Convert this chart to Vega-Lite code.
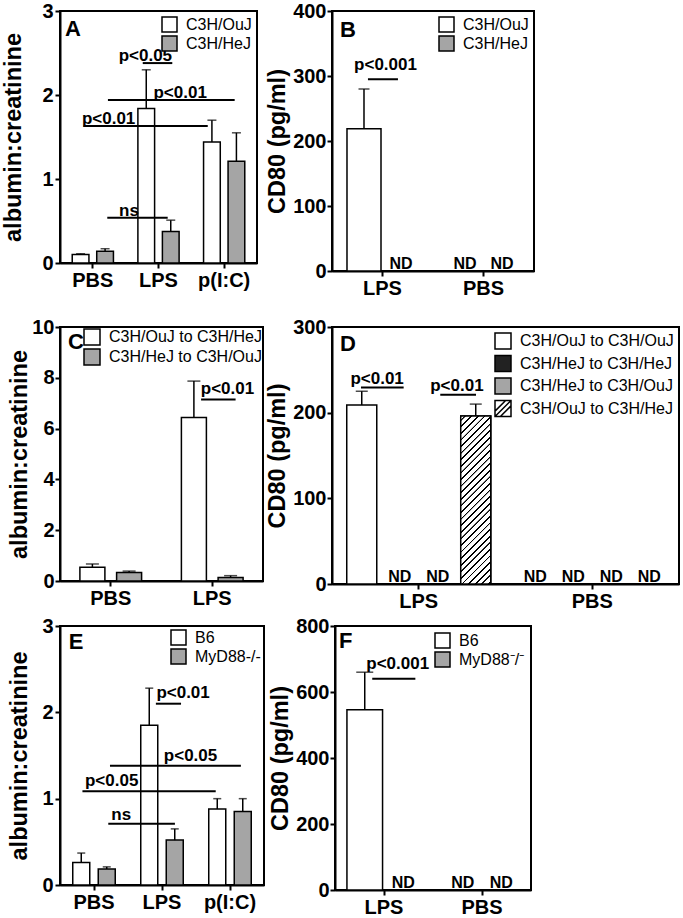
{
"$schema":"https://vega.github.io/schema/vega-lite/v6.json",
"background":"white",
"padding":{"left":0,"top":0,"right":0,"bottom":0},
"datasets":{
"a":[{"group":"PBS","series":"C3H/OuJ","value":0.1,"upper":0.11},{"group":"PBS","series":"C3H/HeJ","value":0.14,"upper":0.17},{"group":"LPS","series":"C3H/OuJ","value":1.84,"upper":2.3},{"group":"LPS","series":"C3H/HeJ","value":0.375,"upper":0.51},{"group":"p(I:C)","series":"C3H/OuJ","value":1.44,"upper":1.7},{"group":"p(I:C)","series":"C3H/HeJ","value":1.21,"upper":1.55}],
"a_sig":[{"label":"p<0.05","x1":1.26,"x2":1.71,"y":2.38,"xt":1.3,"yt":2.41},{"label":"p<0.01","x1":0.73,"x2":2.66,"y":1.94,"xt":1.83,"yt":1.96},{"label":"p<0.01","x1":0.36,"x2":2.25,"y":1.63,"xt":0.74,"yt":1.66},{"label":"ns","x1":0.72,"x2":1.64,"y":0.54,"xt":1.05,"yt":0.56}],
"b":[{"group":"LPS","series":"C3H/OuJ","value":219,"upper":280,"nd":null},{"group":"LPS","series":"C3H/HeJ","value":null,"upper":null,"nd":"ND"},{"group":"PBS","series":"C3H/OuJ","value":null,"upper":null,"nd":"ND"},{"group":"PBS","series":"C3H/HeJ","value":null,"upper":null,"nd":"ND"}],
"b_sig":[{"label":"p<0.001","x1":0.356,"x2":0.653,"y":295,"xt":0.53,"yt":309}],
"c":[{"group":"PBS","series":"C3H/OuJ to C3H/HeJ","value":0.54,"upper":0.67},{"group":"PBS","series":"C3H/HeJ to C3H/OuJ","value":0.33,"upper":0.39},{"group":"LPS","series":"C3H/OuJ to C3H/HeJ","value":6.44,"upper":7.87},{"group":"LPS","series":"C3H/HeJ to C3H/OuJ","value":0.14,"upper":0.21}],
"c_sig":[{"label":"p<0.01","x1":1.39,"x2":1.73,"y":7.15,"xt":1.65,"yt":7.35}],
"d":[{"group":"LPS","series":"C3H/OuJ to C3H/OuJ","value":209,"upper":225,"nd":null},{"group":"LPS","series":"C3H/HeJ to C3H/HeJ","value":null,"upper":null,"nd":"ND"},{"group":"LPS","series":"C3H/HeJ to C3H/OuJ","value":null,"upper":null,"nd":"ND"},{"group":"LPS","series":"C3H/OuJ to C3H/HeJ","value":196,"upper":210,"nd":null},{"group":"PBS","series":"C3H/OuJ to C3H/OuJ","value":null,"upper":null,"nd":"ND"},{"group":"PBS","series":"C3H/HeJ to C3H/HeJ","value":null,"upper":null,"nd":"ND"},{"group":"PBS","series":"C3H/HeJ to C3H/OuJ","value":null,"upper":null,"nd":"ND"},{"group":"PBS","series":"C3H/OuJ to C3H/HeJ","value":null,"upper":null,"nd":"ND"}],
"d_sig":[{"label":"p<0.01","x1":0.167,"x2":0.413,"y":229.5,"xt":0.26,"yt":233},{"label":"p<0.01","x1":0.624,"x2":0.83,"y":221,"xt":0.72,"yt":225}],
"e":[{"group":"PBS","series":"B6","value":0.26,"upper":0.37},{"group":"PBS","series":"MyD88-/-","value":0.185,"upper":0.21},{"group":"LPS","series":"B6","value":1.85,"upper":2.28},{"group":"LPS","series":"MyD88-/-","value":0.52,"upper":0.65},{"group":"p(I:C)","series":"B6","value":0.88,"upper":1.0},{"group":"p(I:C)","series":"MyD88-/-","value":0.85,"upper":1.0}],
"e_sig":[{"label":"p<0.01","x1":1.41,"x2":1.78,"y":2.1,"xt":1.81,"yt":2.17},{"label":"p<0.05","x1":0.735,"x2":2.66,"y":1.38,"xt":1.92,"yt":1.44},{"label":"p<0.05","x1":0.33,"x2":2.29,"y":1.085,"xt":0.76,"yt":1.15},{"label":"ns","x1":0.71,"x2":1.69,"y":0.71,"xt":0.9,"yt":0.75}],
"f":[{"group":"LPS","series":"B6","value":546,"upper":660,"nd":null},{"group":"LPS","series":"MyD88⁻/⁻","value":null,"upper":null,"nd":"ND"},{"group":"PBS","series":"B6","value":null,"upper":null,"nd":"ND"},{"group":"PBS","series":"MyD88⁻/⁻","value":null,"upper":null,"nd":"ND"}],
"f_sig":[{"label":"p<0.001","x1":0.38,"x2":0.82,"y":640,"xt":0.64,"yt":671}]
},
"spacing":17,
"resolve":{"scale":{"fill":"independent","xOffset":"independent"},"legend":{"fill":"independent"}},
"vconcat":[
{"spacing":6,
 "resolve":{"scale":{"fill":"independent","xOffset":"independent"},"legend":{"fill":"independent"}},
 "hconcat":[
 {"width":197,"height":252,
  "layer":[
   {"data":{"name":"a"},
    "layer":[
     {"mark":{"type":"bar","stroke":"black","strokeWidth":1.5},
      "encoding":{
       "x":{"field":"group","type":"nominal","sort":null,"scale":{"domain":["PBS","LPS","p(I:C)"],"paddingInner":0,"paddingOuter":0},"axis":{"title":null}},
       "xOffset":{"field":"series","type":"nominal","scale":{"domain":["C3H/OuJ","C3H/HeJ"],"paddingInner":0.318,"paddingOuter":0.499}},
       "y":{"field":"value","type":"quantitative","scale":{"domain":[0,3],"nice":false},"axis":{"title":"albumin:creatinine","values":[0,1,2,3],"format":"d","titlePadding":16,"labelPadding":2}},
       "fill":{"field":"series","type":"nominal","scale":{"domain":["C3H/OuJ","C3H/HeJ"],"range":["#ffffff","#a5a5a5"]},"legend":{"title":null,"orient":"top-right","rowPadding":-4,"offset":5,"labelFontSize":16,"symbolSize":225,"symbolType":"square","symbolStrokeColor":"black","symbolStrokeWidth":1.5,"labelOffset":8,"padding":0,"labelLimit":400}}}},
     {"mark":{"type":"rule","color":"black","strokeWidth":1.5},
      "encoding":{"x":{"field":"group","type":"nominal","sort":null},"xOffset":{"field":"series","type":"nominal"},"y":{"field":"value","type":"quantitative","scale":{"domain":[0,3],"nice":false}},"y2":{"field":"upper"}}},
     {"mark":{"type":"tick","color":"black","thickness":1.5,"size":9},
      "encoding":{"x":{"field":"group","type":"nominal","sort":null},"xOffset":{"field":"series","type":"nominal"},"y":{"field":"upper","type":"quantitative","scale":{"domain":[0,3],"nice":false}}}}
    ]},
   {"data":{"name":"a_sig"},
    "layer":[
     {"mark":{"type":"rule","color":"black","strokeWidth":2},
      "encoding":{"x":{"field":"x1","type":"quantitative","scale":{"domain":[0,3],"nice":false,"zero":false},"axis":null},"x2":{"field":"x2"},"y":{"field":"y","type":"quantitative","scale":{"domain":[0,3],"nice":false}}}},
     {"mark":{"type":"text","fontSize":17,"fontWeight":"bold","align":"center","baseline":"alphabetic"},
      "encoding":{"x":{"field":"xt","type":"quantitative","scale":{"domain":[0,3],"nice":false,"zero":false},"axis":null},"y":{"field":"yt","type":"quantitative","scale":{"domain":[0,3],"nice":false}},"text":{"field":"label"}}}
    ]},
   {"data":{"values":[{"letter":"A","x":0.076,"y":2.7}]},
    "mark":{"type":"text","fontSize":22,"fontWeight":"bold","align":"left","baseline":"alphabetic"},
    "encoding":{"x":{"field":"x","type":"quantitative","scale":{"domain":[0,3],"nice":false,"zero":false},"axis":null},"y":{"field":"y","type":"quantitative","scale":{"domain":[0,3],"nice":false}},"text":{"field":"letter"}}}
  ],
  "resolve":{"scale":{"x":"independent"},"axis":{"x":"independent"}}},
 {"width":202,"height":260,
  "layer":[
   {"data":{"name":"b"},
    "layer":[
     {"mark":{"type":"bar","stroke":"black","strokeWidth":1.5},
      "encoding":{
       "x":{"field":"group","type":"nominal","sort":null,"scale":{"domain":["LPS","PBS"],"paddingInner":0,"paddingOuter":0},"axis":{"title":null}},
       "xOffset":{"field":"series","type":"nominal","scale":{"domain":["C3H/OuJ","C3H/HeJ"],"paddingInner":0.081,"paddingOuter":0.405}},
       "y":{"field":"value","type":"quantitative","scale":{"domain":[0,400],"nice":false},"axis":{"title":"CD80 (pg/ml)","values":[0,100,200,300,400],"format":"d","titlePadding":3,"labelPadding":1}},
       "fill":{"field":"series","type":"nominal","scale":{"domain":["C3H/OuJ","C3H/HeJ"],"range":["#ffffff","#a5a5a5"]},"legend":{"title":null,"orient":"top-right","rowPadding":-4,"offset":5,"labelFontSize":16,"symbolSize":225,"symbolType":"square","symbolStrokeColor":"black","symbolStrokeWidth":1.5,"labelOffset":8,"padding":0,"labelLimit":400}}}},
     {"mark":{"type":"rule","color":"black","strokeWidth":1.5},
      "encoding":{"x":{"field":"group","type":"nominal","sort":null},"xOffset":{"field":"series","type":"nominal"},"y":{"field":"value","type":"quantitative","scale":{"domain":[0,400],"nice":false}},"y2":{"field":"upper"}}},
     {"mark":{"type":"tick","color":"black","thickness":1.5,"size":11},
      "encoding":{"x":{"field":"group","type":"nominal","sort":null},"xOffset":{"field":"series","type":"nominal"},"y":{"field":"upper","type":"quantitative","scale":{"domain":[0,400],"nice":false}}}},
     {"transform":[{"filter":"datum.nd != null"}],
      "mark":{"type":"text","fontSize":16,"fontWeight":"bold","align":"center","baseline":"alphabetic","dy":-2},
      "encoding":{"x":{"field":"group","type":"nominal","sort":null},"xOffset":{"field":"series","type":"nominal"},"y":{"datum":0,"type":"quantitative","scale":{"domain":[0,400],"nice":false}},"text":{"field":"nd"}}}
    ]},
   {"data":{"name":"b_sig"},
    "layer":[
     {"mark":{"type":"rule","color":"black","strokeWidth":2},
      "encoding":{"x":{"field":"x1","type":"quantitative","scale":{"domain":[0,2],"nice":false,"zero":false},"axis":null},"x2":{"field":"x2"},"y":{"field":"y","type":"quantitative","scale":{"domain":[0,400],"nice":false}}}},
     {"mark":{"type":"text","fontSize":17,"fontWeight":"bold","align":"center","baseline":"alphabetic"},
      "encoding":{"x":{"field":"xt","type":"quantitative","scale":{"domain":[0,2],"nice":false,"zero":false},"axis":null},"y":{"field":"yt","type":"quantitative","scale":{"domain":[0,400],"nice":false}},"text":{"field":"label"}}}
    ]},
   {"data":{"values":[{"letter":"B","x":0.08,"y":360}]},
    "mark":{"type":"text","fontSize":22,"fontWeight":"bold","align":"left","baseline":"alphabetic"},
    "encoding":{"x":{"field":"x","type":"quantitative","scale":{"domain":[0,2],"nice":false,"zero":false},"axis":null},"y":{"field":"y","type":"quantitative","scale":{"domain":[0,400],"nice":false}},"text":{"field":"letter"}}}
  ],
  "resolve":{"scale":{"x":"independent"},"axis":{"x":"independent"}}}
 ]},
{"spacing":3,
 "resolve":{"scale":{"fill":"independent","xOffset":"independent"},"legend":{"fill":"independent"}},
 "vconcat":[
 {"spacing":0,
  "resolve":{"scale":{"fill":"independent","xOffset":"independent"},"legend":{"fill":"independent"}},
  "hconcat":[
  {"width":203,"height":254,
   "layer":[
    {"data":{"name":"c"},
     "layer":[
      {"mark":{"type":"bar","stroke":"black","strokeWidth":1.5},
       "encoding":{
        "x":{"field":"group","type":"nominal","sort":null,"scale":{"domain":["PBS","LPS"],"paddingInner":0,"paddingOuter":0},"axis":{"title":null}},
        "xOffset":{"field":"series","type":"nominal","scale":{"domain":["C3H/OuJ to C3H/HeJ","C3H/HeJ to C3H/OuJ"],"paddingInner":0.319,"paddingOuter":0.542}},
        "y":{"field":"value","type":"quantitative","scale":{"domain":[0,10],"nice":false},"axis":{"title":"albumin:creatinine","values":[0,2,4,6,8,10],"format":"d","titlePadding":0,"labelPadding":1}},
        "fill":{"field":"series","type":"nominal","scale":{"domain":["C3H/OuJ to C3H/HeJ","C3H/HeJ to C3H/OuJ"],"range":["#ffffff","#a5a5a5"]},"legend":{"title":null,"orient":"top-right","rowPadding":-6,"offset":1,"labelFontSize":16,"symbolSize":256,"symbolType":"square","symbolStrokeColor":"black","symbolStrokeWidth":1.5,"labelOffset":8,"padding":0,"labelLimit":400}}}},
      {"mark":{"type":"rule","color":"black","strokeWidth":1.5},
       "encoding":{"x":{"field":"group","type":"nominal","sort":null},"xOffset":{"field":"series","type":"nominal"},"y":{"field":"value","type":"quantitative","scale":{"domain":[0,10],"nice":false}},"y2":{"field":"upper"}}},
      {"mark":{"type":"tick","color":"black","thickness":1.5,"size":13},
       "encoding":{"x":{"field":"group","type":"nominal","sort":null},"xOffset":{"field":"series","type":"nominal"},"y":{"field":"upper","type":"quantitative","scale":{"domain":[0,10],"nice":false}}}}
     ]},
    {"data":{"name":"c_sig"},
     "layer":[
      {"mark":{"type":"rule","color":"black","strokeWidth":2},
       "encoding":{"x":{"field":"x1","type":"quantitative","scale":{"domain":[0,2],"nice":false,"zero":false},"axis":null},"x2":{"field":"x2"},"y":{"field":"y","type":"quantitative","scale":{"domain":[0,10],"nice":false}}}},
      {"mark":{"type":"text","fontSize":17,"fontWeight":"bold","align":"center","baseline":"alphabetic"},
       "encoding":{"x":{"field":"xt","type":"quantitative","scale":{"domain":[0,2],"nice":false,"zero":false},"axis":null},"y":{"field":"yt","type":"quantitative","scale":{"domain":[0,10],"nice":false}},"text":{"field":"label"}}}
     ]},
    {"data":{"values":[{"letter":"C","x":0.08,"y":9.15}]},
     "mark":{"type":"text","fontSize":22,"fontWeight":"bold","align":"left","baseline":"alphabetic"},
     "encoding":{"x":{"field":"x","type":"quantitative","scale":{"domain":[0,2],"nice":false,"zero":false},"axis":null},"y":{"field":"y","type":"quantitative","scale":{"domain":[0,10],"nice":false}},"text":{"field":"letter"}}}
   ],
   "resolve":{"scale":{"x":"independent"},"axis":{"x":"independent"}}},
  {"width":347,"height":257,
   "layer":[
    {"data":{"name":"d"},
     "layer":[
      {"mark":{"type":"bar","stroke":"black","strokeWidth":1.5},
       "encoding":{
        "x":{"field":"group","type":"nominal","sort":null,"scale":{"domain":["LPS","PBS"],"paddingInner":0,"paddingOuter":0},"axis":{"title":null}},
        "xOffset":{"field":"series","type":"nominal","scale":{"domain":["C3H/OuJ to C3H/OuJ","C3H/HeJ to C3H/HeJ","C3H/HeJ to C3H/OuJ","C3H/OuJ to C3H/HeJ"],"paddingInner":0.21,"paddingOuter":0.388}},
        "y":{"field":"value","type":"quantitative","scale":{"domain":[0,300],"nice":false},"axis":{"title":"CD80 (pg/ml)","values":[0,100,200,300],"format":"d","titlePadding":3,"labelPadding":1}},
        "fill":{"field":"series","type":"nominal","scale":{"domain":["C3H/OuJ to C3H/OuJ","C3H/HeJ to C3H/HeJ","C3H/HeJ to C3H/OuJ","C3H/OuJ to C3H/HeJ"],"range":["#ffffff","#222222","#a5a5a5","#ffffff"]},"legend":{"title":null,"orient":"top-right","rowPadding":0.5,"offset":5,"labelFontSize":16,"symbolSize":256,"symbolType":"square","symbolStrokeColor":"black","symbolStrokeWidth":1.5,"labelOffset":8,"padding":0,"labelLimit":400,"encode":{"symbols":{"update":{"shape":{"signal":"datum.value === 'C3H/OuJ to C3H/HeJ' ? 'M-1,-1H1V1H-1Z M-1,0.33L0.33,-1 M-1,1L1,-1 M-0.33,1L1,-0.33' : 'square'"}}}}}}}},
      {"transform":[{"filter":"datum.series === 'C3H/OuJ to C3H/HeJ'"}],
       "mark":{"type":"bar","stroke":"black","strokeWidth":1.5,"fill":{"gradient":"linear","x1":0,"y1":0,"x2":0.204,"y2":1.142,"stops":[
{"offset":0,"color":"#ffffff"},
{"offset":0.0167,"color":"#ffffff"},{"offset":0.0177,"color":"#000000"},{"offset":0.0257,"color":"#000000"},{"offset":0.0267,"color":"#ffffff"},
{"offset":0.05,"color":"#ffffff"},{"offset":0.051,"color":"#000000"},{"offset":0.059,"color":"#000000"},{"offset":0.06,"color":"#ffffff"},
{"offset":0.0833,"color":"#ffffff"},{"offset":0.0843,"color":"#000000"},{"offset":0.0923,"color":"#000000"},{"offset":0.0933,"color":"#ffffff"},
{"offset":0.1167,"color":"#ffffff"},{"offset":0.1177,"color":"#000000"},{"offset":0.1257,"color":"#000000"},{"offset":0.1267,"color":"#ffffff"},
{"offset":0.15,"color":"#ffffff"},{"offset":0.151,"color":"#000000"},{"offset":0.159,"color":"#000000"},{"offset":0.16,"color":"#ffffff"},
{"offset":0.1833,"color":"#ffffff"},{"offset":0.1843,"color":"#000000"},{"offset":0.1923,"color":"#000000"},{"offset":0.1933,"color":"#ffffff"},
{"offset":0.2167,"color":"#ffffff"},{"offset":0.2177,"color":"#000000"},{"offset":0.2257,"color":"#000000"},{"offset":0.2267,"color":"#ffffff"},
{"offset":0.25,"color":"#ffffff"},{"offset":0.251,"color":"#000000"},{"offset":0.259,"color":"#000000"},{"offset":0.26,"color":"#ffffff"},
{"offset":0.2833,"color":"#ffffff"},{"offset":0.2843,"color":"#000000"},{"offset":0.2923,"color":"#000000"},{"offset":0.2933,"color":"#ffffff"},
{"offset":0.3167,"color":"#ffffff"},{"offset":0.3177,"color":"#000000"},{"offset":0.3257,"color":"#000000"},{"offset":0.3267,"color":"#ffffff"},
{"offset":0.35,"color":"#ffffff"},{"offset":0.351,"color":"#000000"},{"offset":0.359,"color":"#000000"},{"offset":0.36,"color":"#ffffff"},
{"offset":0.3833,"color":"#ffffff"},{"offset":0.3843,"color":"#000000"},{"offset":0.3923,"color":"#000000"},{"offset":0.3933,"color":"#ffffff"},
{"offset":0.4167,"color":"#ffffff"},{"offset":0.4177,"color":"#000000"},{"offset":0.4257,"color":"#000000"},{"offset":0.4267,"color":"#ffffff"},
{"offset":0.45,"color":"#ffffff"},{"offset":0.451,"color":"#000000"},{"offset":0.459,"color":"#000000"},{"offset":0.46,"color":"#ffffff"},
{"offset":0.4833,"color":"#ffffff"},{"offset":0.4843,"color":"#000000"},{"offset":0.4923,"color":"#000000"},{"offset":0.4933,"color":"#ffffff"},
{"offset":0.5167,"color":"#ffffff"},{"offset":0.5177,"color":"#000000"},{"offset":0.5257,"color":"#000000"},{"offset":0.5267,"color":"#ffffff"},
{"offset":0.55,"color":"#ffffff"},{"offset":0.551,"color":"#000000"},{"offset":0.559,"color":"#000000"},{"offset":0.56,"color":"#ffffff"},
{"offset":0.5833,"color":"#ffffff"},{"offset":0.5843,"color":"#000000"},{"offset":0.5923,"color":"#000000"},{"offset":0.5933,"color":"#ffffff"},
{"offset":0.6167,"color":"#ffffff"},{"offset":0.6177,"color":"#000000"},{"offset":0.6257,"color":"#000000"},{"offset":0.6267,"color":"#ffffff"},
{"offset":0.65,"color":"#ffffff"},{"offset":0.651,"color":"#000000"},{"offset":0.659,"color":"#000000"},{"offset":0.66,"color":"#ffffff"},
{"offset":0.6833,"color":"#ffffff"},{"offset":0.6843,"color":"#000000"},{"offset":0.6923,"color":"#000000"},{"offset":0.6933,"color":"#ffffff"},
{"offset":0.7167,"color":"#ffffff"},{"offset":0.7177,"color":"#000000"},{"offset":0.7257,"color":"#000000"},{"offset":0.7267,"color":"#ffffff"},
{"offset":0.75,"color":"#ffffff"},{"offset":0.751,"color":"#000000"},{"offset":0.759,"color":"#000000"},{"offset":0.76,"color":"#ffffff"},
{"offset":0.7833,"color":"#ffffff"},{"offset":0.7843,"color":"#000000"},{"offset":0.7923,"color":"#000000"},{"offset":0.7933,"color":"#ffffff"},
{"offset":0.8167,"color":"#ffffff"},{"offset":0.8177,"color":"#000000"},{"offset":0.8257,"color":"#000000"},{"offset":0.8267,"color":"#ffffff"},
{"offset":0.85,"color":"#ffffff"},{"offset":0.851,"color":"#000000"},{"offset":0.859,"color":"#000000"},{"offset":0.86,"color":"#ffffff"},
{"offset":0.8833,"color":"#ffffff"},{"offset":0.8843,"color":"#000000"},{"offset":0.8923,"color":"#000000"},{"offset":0.8933,"color":"#ffffff"},
{"offset":0.9167,"color":"#ffffff"},{"offset":0.9177,"color":"#000000"},{"offset":0.9257,"color":"#000000"},{"offset":0.9267,"color":"#ffffff"},
{"offset":0.95,"color":"#ffffff"},{"offset":0.951,"color":"#000000"},{"offset":0.959,"color":"#000000"},{"offset":0.96,"color":"#ffffff"},
{"offset":0.9833,"color":"#ffffff"},{"offset":0.9843,"color":"#000000"},{"offset":0.9923,"color":"#000000"},{"offset":0.9933,"color":"#ffffff"},
{"offset":1,"color":"#ffffff"}]}},
       "encoding":{"x":{"field":"group","type":"nominal","sort":null},"xOffset":{"field":"series","type":"nominal"},"y":{"field":"value","type":"quantitative","scale":{"domain":[0,300],"nice":false}}}},
      {"mark":{"type":"rule","color":"black","strokeWidth":1.5},
       "encoding":{"x":{"field":"group","type":"nominal","sort":null},"xOffset":{"field":"series","type":"nominal"},"y":{"field":"value","type":"quantitative","scale":{"domain":[0,300],"nice":false}},"y2":{"field":"upper"}}},
      {"mark":{"type":"tick","color":"black","thickness":1.5,"size":12},
       "encoding":{"x":{"field":"group","type":"nominal","sort":null},"xOffset":{"field":"series","type":"nominal"},"y":{"field":"upper","type":"quantitative","scale":{"domain":[0,300],"nice":false}}}},
      {"transform":[{"filter":"datum.nd != null"}],
       "mark":{"type":"text","fontSize":16,"fontWeight":"bold","align":"center","baseline":"alphabetic","dy":-2},
       "encoding":{"x":{"field":"group","type":"nominal","sort":null},"xOffset":{"field":"series","type":"nominal"},"y":{"datum":0,"type":"quantitative","scale":{"domain":[0,300],"nice":false}},"text":{"field":"nd"}}}
     ]},
    {"data":{"name":"d_sig"},
     "layer":[
      {"mark":{"type":"rule","color":"black","strokeWidth":2},
       "encoding":{"x":{"field":"x1","type":"quantitative","scale":{"domain":[0,2],"nice":false,"zero":false},"axis":null},"x2":{"field":"x2"},"y":{"field":"y","type":"quantitative","scale":{"domain":[0,300],"nice":false}}}},
      {"mark":{"type":"text","fontSize":17,"fontWeight":"bold","align":"center","baseline":"alphabetic"},
       "encoding":{"x":{"field":"xt","type":"quantitative","scale":{"domain":[0,2],"nice":false,"zero":false},"axis":null},"y":{"field":"yt","type":"quantitative","scale":{"domain":[0,300],"nice":false}},"text":{"field":"label"}}}
     ]},
    {"data":{"values":[{"letter":"D","x":0.046,"y":272}]},
     "mark":{"type":"text","fontSize":22,"fontWeight":"bold","align":"left","baseline":"alphabetic"},
     "encoding":{"x":{"field":"x","type":"quantitative","scale":{"domain":[0,2],"nice":false,"zero":false},"axis":null},"y":{"field":"y","type":"quantitative","scale":{"domain":[0,300],"nice":false}},"text":{"field":"letter"}}}
   ],
   "resolve":{"scale":{"x":"independent"},"axis":{"x":"independent"}}}
  ]},
 {"spacing":2,
  "resolve":{"scale":{"fill":"independent","xOffset":"independent"},"legend":{"fill":"independent"}},
  "hconcat":[
  {"width":204,"height":259,
   "layer":[
    {"data":{"name":"e"},
     "layer":[
      {"mark":{"type":"bar","stroke":"black","strokeWidth":1.5},
       "encoding":{
        "x":{"field":"group","type":"nominal","sort":null,"scale":{"domain":["PBS","LPS","p(I:C)"],"paddingInner":0,"paddingOuter":0},"axis":{"title":null}},
        "xOffset":{"field":"series","type":"nominal","scale":{"domain":["B6","MyD88-/-"],"paddingInner":0.333,"paddingOuter":0.5}},
        "y":{"field":"value","type":"quantitative","scale":{"domain":[0,3],"nice":false},"axis":{"title":"albumin:creatinine","values":[0,1,2,3],"format":"d","titlePadding":10,"labelPadding":2}},
        "fill":{"field":"series","type":"nominal","scale":{"domain":["B6","MyD88-/-"],"range":["#ffffff","#a5a5a5"]},"legend":{"title":null,"orient":"top-right","rowPadding":-10,"offset":3,"labelFontSize":16,"symbolSize":225,"symbolType":"square","symbolStrokeColor":"black","symbolStrokeWidth":1.5,"labelOffset":8,"padding":0,"labelLimit":400}}}},
      {"mark":{"type":"rule","color":"black","strokeWidth":1.5},
       "encoding":{"x":{"field":"group","type":"nominal","sort":null},"xOffset":{"field":"series","type":"nominal"},"y":{"field":"value","type":"quantitative","scale":{"domain":[0,3],"nice":false}},"y2":{"field":"upper"}}},
      {"mark":{"type":"tick","color":"black","thickness":1.5,"size":8},
       "encoding":{"x":{"field":"group","type":"nominal","sort":null},"xOffset":{"field":"series","type":"nominal"},"y":{"field":"upper","type":"quantitative","scale":{"domain":[0,3],"nice":false}}}}
     ]},
    {"data":{"name":"e_sig"},
     "layer":[
      {"mark":{"type":"rule","color":"black","strokeWidth":2},
       "encoding":{"x":{"field":"x1","type":"quantitative","scale":{"domain":[0,3],"nice":false,"zero":false},"axis":null},"x2":{"field":"x2"},"y":{"field":"y","type":"quantitative","scale":{"domain":[0,3],"nice":false}}}},
      {"mark":{"type":"text","fontSize":17,"fontWeight":"bold","align":"center","baseline":"alphabetic"},
       "encoding":{"x":{"field":"xt","type":"quantitative","scale":{"domain":[0,3],"nice":false,"zero":false},"axis":null},"y":{"field":"yt","type":"quantitative","scale":{"domain":[0,3],"nice":false}},"text":{"field":"label"}}}
     ]},
    {"data":{"values":[{"letter":"E","x":0.13,"y":2.73}]},
     "mark":{"type":"text","fontSize":22,"fontWeight":"bold","align":"left","baseline":"alphabetic"},
     "encoding":{"x":{"field":"x","type":"quantitative","scale":{"domain":[0,3],"nice":false,"zero":false},"axis":null},"y":{"field":"y","type":"quantitative","scale":{"domain":[0,3],"nice":false}},"text":{"field":"letter"}}}
   ],
   "resolve":{"scale":{"x":"independent"},"axis":{"x":"independent"}}},
  {"width":196,"height":264,
   "layer":[
    {"data":{"name":"f"},
     "layer":[
      {"mark":{"type":"bar","stroke":"black","strokeWidth":1.5},
       "encoding":{
        "x":{"field":"group","type":"nominal","sort":null,"scale":{"domain":["LPS","PBS"],"paddingInner":0,"paddingOuter":0},"axis":{"title":null}},
        "xOffset":{"field":"series","type":"nominal","scale":{"domain":["B6","MyD88⁻/⁻"],"paddingInner":0.075,"paddingOuter":0.31}},
        "y":{"field":"value","type":"quantitative","scale":{"domain":[0,800],"nice":false},"axis":{"title":"CD80 (pg/ml)","values":[0,200,400,600,800],"format":"d","titlePadding":3,"labelPadding":1}},
        "fill":{"field":"series","type":"nominal","scale":{"domain":["B6","MyD88⁻/⁻"],"range":["#ffffff","#a5a5a5"]},"legend":{"title":null,"orient":"top-right","rowPadding":-7,"offset":6,"labelFontSize":16,"symbolSize":225,"symbolType":"square","symbolStrokeColor":"black","symbolStrokeWidth":1.5,"labelOffset":8,"padding":0,"labelLimit":400}}}},
      {"mark":{"type":"rule","color":"black","strokeWidth":1.5},
       "encoding":{"x":{"field":"group","type":"nominal","sort":null},"xOffset":{"field":"series","type":"nominal"},"y":{"field":"value","type":"quantitative","scale":{"domain":[0,800],"nice":false}},"y2":{"field":"upper"}}},
      {"mark":{"type":"tick","color":"black","thickness":1.5,"size":17},
       "encoding":{"x":{"field":"group","type":"nominal","sort":null},"xOffset":{"field":"series","type":"nominal"},"y":{"field":"upper","type":"quantitative","scale":{"domain":[0,800],"nice":false}}}},
      {"transform":[{"filter":"datum.nd != null"}],
       "mark":{"type":"text","fontSize":16,"fontWeight":"bold","align":"center","baseline":"alphabetic","dy":-2},
       "encoding":{"x":{"field":"group","type":"nominal","sort":null},"xOffset":{"field":"series","type":"nominal"},"y":{"datum":0,"type":"quantitative","scale":{"domain":[0,800],"nice":false}},"text":{"field":"nd"}}}
     ]},
    {"data":{"name":"f_sig"},
     "layer":[
      {"mark":{"type":"rule","color":"black","strokeWidth":2},
       "encoding":{"x":{"field":"x1","type":"quantitative","scale":{"domain":[0,2],"nice":false,"zero":false},"axis":null},"x2":{"field":"x2"},"y":{"field":"y","type":"quantitative","scale":{"domain":[0,800],"nice":false}}}},
      {"mark":{"type":"text","fontSize":17,"fontWeight":"bold","align":"center","baseline":"alphabetic"},
       "encoding":{"x":{"field":"xt","type":"quantitative","scale":{"domain":[0,2],"nice":false,"zero":false},"axis":null},"y":{"field":"yt","type":"quantitative","scale":{"domain":[0,800],"nice":false}},"text":{"field":"label"}}}
     ]},
    {"data":{"values":[{"letter":"F","x":0.04,"y":734}]},
     "mark":{"type":"text","fontSize":22,"fontWeight":"bold","align":"left","baseline":"alphabetic"},
     "encoding":{"x":{"field":"x","type":"quantitative","scale":{"domain":[0,2],"nice":false,"zero":false},"axis":null},"y":{"field":"y","type":"quantitative","scale":{"domain":[0,800],"nice":false}},"text":{"field":"letter"}}}
   ],
   "resolve":{"scale":{"x":"independent"},"axis":{"x":"independent"}}}
  ]}
 ]}
],
"config":{
 "font":"Liberation Sans",
 "view":{"stroke":"black","strokeWidth":2},
 "axis":{"domainColor":"black","domainWidth":2,"tickColor":"black","tickWidth":2,"tickSize":5,"labelFont":"Liberation Sans","labelFontWeight":"bold","labelFontSize":20,"labelColor":"black","titleFont":"Liberation Sans","titleFontWeight":"bold","titleFontSize":23.5,"titleColor":"black","grid":false},
 "axisX":{"labelAngle":0,"labelPadding":2},
 "legend":{"labelFont":"Liberation Sans","labelFontSize":16,"labelColor":"black","symbolType":"square","symbolSize":225,"symbolStrokeColor":"black","symbolStrokeWidth":1.5,"padding":0,"labelOffset":8,"labelLimit":400},
 "text":{"font":"Liberation Sans","color":"black"}
}
}
